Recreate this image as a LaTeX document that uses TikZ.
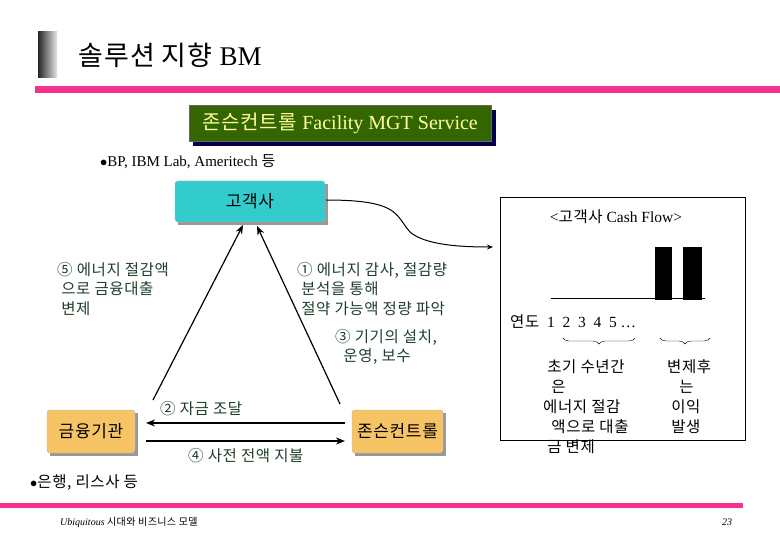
\documentclass[tikz,border=0pt]{standalone}
\usepackage{fontspec}
\setmainfont{Liberation Serif}
\newfontfamily\ko[LetterSpace=4]{Noto Sans CJK KR}
\usetikzlibrary{arrows.meta,decorations.pathreplacing}
\definecolor{pinkline}{HTML}{F5338F}
\definecolor{lbl}{HTML}{1F3F2A}
\definecolor{cyanbox}{HTML}{33CCCC}
\definecolor{orbox}{HTML}{F7C465}
\definecolor{greenbox}{HTML}{336600}
\tikzset{
  lab/.style={text=lbl,font=\ko\fontsize{15.5}{19.5}\selectfont,align=left,anchor=north west,inner sep=0pt},
  conn/.style={draw=black,line width=1.6pt,-{Stealth[length=9pt,width=7pt]}},
  thin/.style={draw=black,line width=1.2pt,-{Stealth[length=9pt,width=7pt]}},
  actor/.style={rounded corners=3pt,draw=gray!60,font=\ko\fontsize{17}{20}\selectfont,text=black}
}
\begin{document}
\begin{tikzpicture}[x=1pt,y=-1pt]
\useasboundingbox[fill=white] (0,0) rectangle (780,540);
% title
\shade[left color=black!85,right color=black!10] (38,32) rectangle (57,78);
\node[anchor=west,inner sep=0pt,font=\fontsize{27}{30}\selectfont] (title) at (78,55) {{\ko 솔루션 지향} BM};
\draw[pinkline,line width=7pt] (35,90) -- (780,90);
% green banner
\fill[blue!30!black] (193,110) rectangle (496,146);
\node[fill=greenbox,draw=black!60,minimum width=302pt,minimum height=36pt,inner sep=0pt,text={rgb,255:red,255;green,255;blue,153},font=\fontsize{20}{22}\selectfont] (banner) at (340,123.5) {{\ko 존슨컨트롤} Facility MGT Service};
\node[anchor=west,inner sep=0pt,font=\fontsize{15}{17}\selectfont] (bp) at (100,162) {$\bullet$BP, IBM Lab, Ameritech {\ko 등}};
% actors
\fill[black!40] (178,184) rectangle (328,225);
\node[actor,fill=cyanbox,minimum width=150pt,minimum height=41pt,inner sep=0pt] (cust) at (250,201.5) {고객사};
\fill[black!40] (50,413) rectangle (138,456);
\node[actor,fill=orbox,minimum width=88pt,minimum height=43pt,inner sep=0pt] (fin) at (91,431.5) {금융기관};
\fill[black!40] (355,413) rectangle (446,456);
\node[actor,fill=orbox,minimum width=91pt,minimum height=43pt,inner sep=0pt] (jc) at (397.5,431.5) {존슨컨트롤};
% connectors
\coordinate (f1) at (153,400); \coordinate (c1) at (243,225);
\coordinate (j1) at (340,404); \coordinate (c2) at (257,226);
\draw[thin] (f1) -- (c1);
\draw[thin] (j1) -- (c2);
\coordinate (ja) at (345,423); \coordinate (fa) at (146,423);
\coordinate (fb) at (146,441); \coordinate (jb) at (345,441);
\draw[conn] (ja) -- (fa);
\draw[conn] (fb) -- (jb);
% labels
\node[lab] (l5) at (57,262) {⑤ 에너지 절감액\\\ 으로 금융대출\\\ 변제};
\node[lab] (l1) at (297,262) {① 에너지 감사, 절감량\\\ 분석을 통해\\\ 절약 가능액 정량 파악};
\node[lab] (l3) at (335,329) {③ 기기의 설치,\\\ \ 운영, 보수};
\node[lab] (l2) at (160,401) {② 자금 조달};
\node[lab] (l4) at (188,448) {④ 사전 전액 지불};
% cash flow box
\draw[line width=0.8pt] (500,197) rectangle (745,440);
\coordinate (cfin) at (493,247);
\draw[line width=1pt,-{Stealth[length=6pt,width=5pt]}] (326,200) .. controls (400,200) and (395,215) .. (410,232) .. controls (425,245) and (460,247) .. (cfin);
\node[inner sep=0pt,font=\fontsize{15.5}{17}\selectfont] (cft) at (616,217) {<{\ko 고객사} Cash Flow>};
\draw[line width=0.8pt] (551,298) -- (705,298);
\fill (655,247) rectangle (672,300);
\fill (683,247) rectangle (702,300);
\node[anchor=west,inner sep=0pt,font=\fontsize{15.5}{17}\selectfont] (yr) at (510,322) {{\ko 연도}\ \ 1\ \ 2\ \ 3\ \ 4\ \ 5\ …};
\draw[decorate,decoration={brace,mirror,amplitude=6pt}] (563,338) -- (635,338);
\draw[decorate,decoration={brace,mirror,amplitude=6pt}] (660,338) -- (710,338);
\node[anchor=north west,inner sep=0pt,font=\ko\fontsize{15.5}{20}\selectfont,align=left] (t1) at (543,359) {\ 초기 수년간\\\ \ 은\\에너지 절감\\\ \ 액으로 대출\\\ 금 변제};
\node[anchor=north west,inner sep=0pt,font=\ko\fontsize{15.5}{20}\selectfont,align=left] (t2) at (667,359) {변제후\\\ \ \ 는\\\ 이익\\\ 발생};
% bottom
\node[anchor=west,inner sep=0pt,font=\ko\fontsize{15.5}{17}\selectfont] (bank) at (30,483) {$\bullet$은행, 리스사 등};
\draw[pinkline,line width=5pt] (0,505) -- (743,505);
\node[anchor=west,inner sep=0pt,font=\itshape\fontsize{10}{11}\selectfont] (foot) at (60,522) {Ubiquitous {\ko 시대와 비즈니스 모델}};
\node[inner sep=0pt,font=\itshape\fontsize{10}{11}\selectfont] (pg) at (727,522) {23};
\end{tikzpicture}
\end{document}
